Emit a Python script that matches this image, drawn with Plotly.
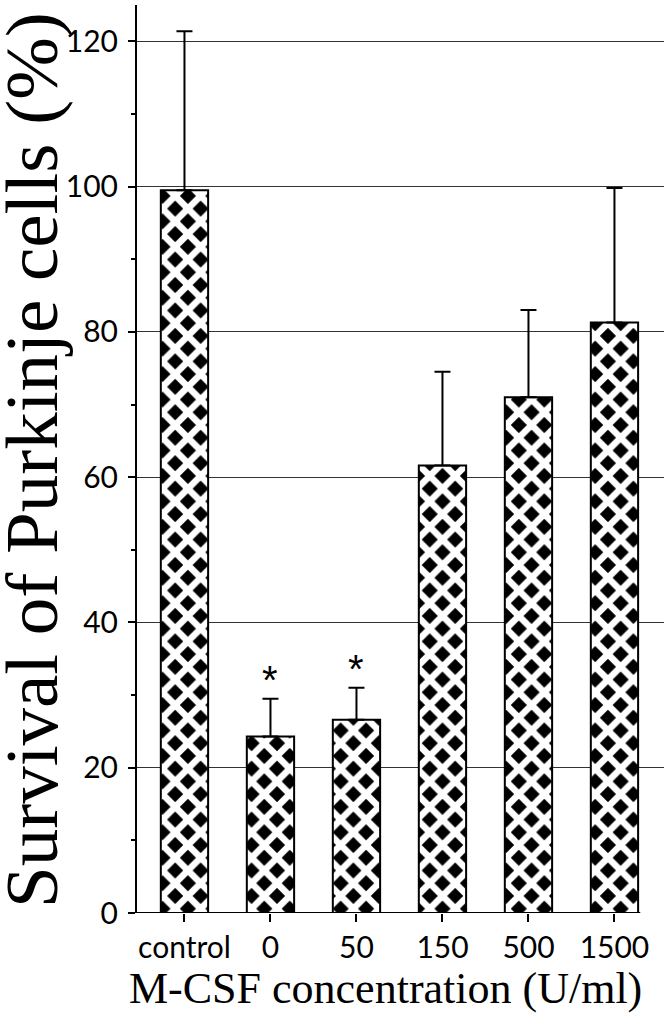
import plotly.graph_objects as go

# === Data ===
CATEGORIES = ['control', '0', '50', '150', '500', '1500']
SURVIVAL = [99.5, 24.3, 26.6, 61.6, 71.0, 81.3]   # mean survival (%)
ERR_UP = [21.9, 5.2, 4.4, 12.9, 12.0, 18.5]       # upper error bar
STARRED = ['0', '50']                             # significant groups

Y_TICKS = [0, 20, 40, 60, 80, 100, 120]

TICK_FONT = dict(family='Lato', size=30, color='black')
TITLE_FONT = 'Liberation Serif'


def create_chart():
    fig = go.Figure()

    idx = list(range(len(CATEGORIES)))
    fig.add_trace(go.Bar(
        x=idx,
        y=SURVIVAL,
        width=0.55,
        marker=dict(
            color='black',
            line=dict(color='black', width=2),
            pattern=dict(shape='x', bgcolor='black', fgcolor='white',
                         size=18, solidity=0.6, fillmode='replace'),
        ),
        error_y=dict(type='data', symmetric=False, array=ERR_UP,
                     arrayminus=[0] * len(ERR_UP),
                     color='black', thickness=2, width=8),
        showlegend=False,
    ))

    # asterisks above the significant bars
    for i, cat in enumerate(CATEGORIES):
        if cat in STARRED:
            fig.add_annotation(x=i, y=SURVIVAL[i] + ERR_UP[i], text='*', showarrow=False,
                               yanchor='bottom', yshift=-5,
                               font=dict(family='Liberation Sans', size=40, color='black'))

    # x axis baseline (stops short of the right edge)
    fig.add_shape(type='line', xref='x', yref='y', x0=-0.56, x1=5.3, y0=0, y1=0,
                  line=dict(color='black', width=2))

    # axis titles placed by hand, the y one is too big to fit the margin otherwise
    fig.add_annotation(text='M-CSF concentration (U/ml)', xref='paper', yref='paper',
                       x=0.4706, y=-0.083, xanchor='center', yanchor='middle',
                       showarrow=False,
                       font=dict(family=TITLE_FONT, size=44, color='black'))
    fig.add_annotation(text='Survival of Purkinje cells (%)', xref='paper', yref='paper',
                       x=-0.199, y=0.499, xanchor='center', yanchor='middle',
                       textangle=-90, showarrow=False,
                       font=dict(family=TITLE_FONT, size=75, color='black'))

    fig.update_layout(
        width=664, height=1019,
        margin=dict(l=137, r=0, t=5, b=106),
        paper_bgcolor='white', plot_bgcolor='white',
    )
    fig.update_xaxes(
        range=[-0.552, 5.576],
        tickvals=idx, ticktext=CATEGORIES,
        showline=False, showgrid=False, zeroline=False,
        ticks='outside', ticklen=8, tickwidth=2, tickcolor='black',
        tickfont=TICK_FONT,
    )
    fig.update_yaxes(
        range=[0, 125],
        tickvals=Y_TICKS,
        showline=True, linecolor='black', linewidth=2,
        showgrid=True, gridcolor='#333', gridwidth=1,
        zeroline=False,
        ticks='outside', ticklen=7, tickwidth=2, tickcolor='black',
        ticklabelstandoff=4,
        minor=dict(dtick=10, ticks='outside', ticklen=4, tickwidth=2,
                   tickcolor='black', showgrid=False),
        tickfont=TICK_FONT,
    )

    fig.write_html('out.html', config={'displayModeBar': False},
                   post_script="document.body.style.margin='0';")


if __name__ == '__main__':
    create_chart()
